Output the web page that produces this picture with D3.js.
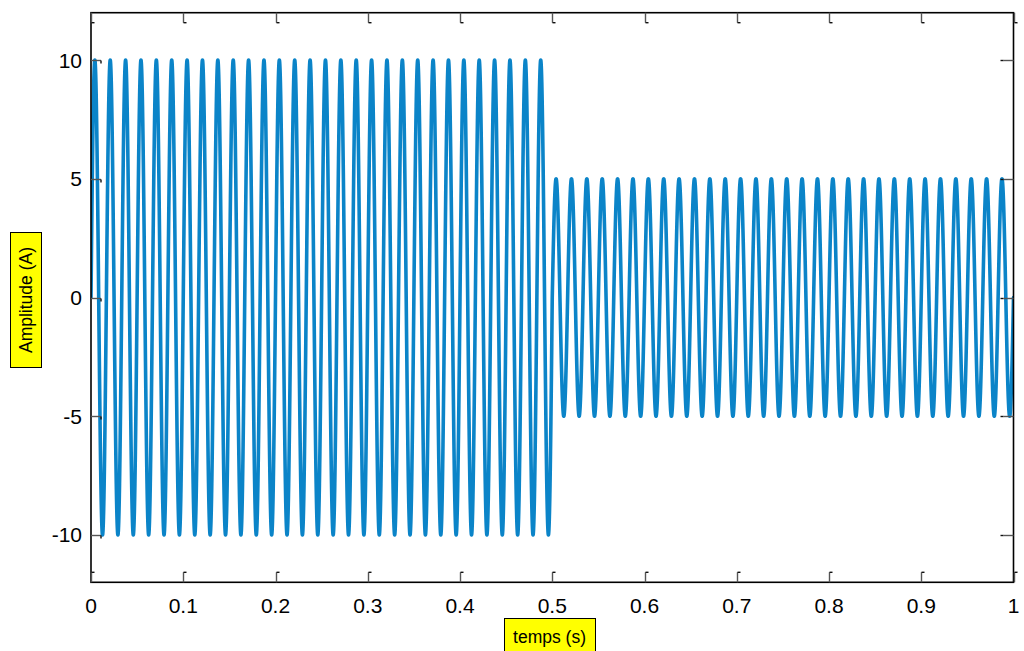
<!DOCTYPE html>
<html>
<head>
<meta charset="utf-8">
<script src="https://cdn.jsdelivr.net/npm/d3@7"></script>
<style>
  html, body { margin: 0; padding: 0; background: #fff; }
  svg { display: block; }
  text { font-family: "Liberation Sans", Arial, sans-serif; fill: #000; }
</style>
</head>
<body>
<svg id="chart" width="1024" height="651"></svg>
<script>
// ---- data ----
const xTicks = [0, 0.1, 0.2, 0.3, 0.4, 0.5, 0.6, 0.7, 0.8, 0.9, 1];
const xTickLabels = ["0", "0.1", "0.2", "0.3", "0.4", "0.5", "0.6", "0.7", "0.8", "0.9", "1"];
const yTicks = [-10, -5, 0, 5, 10];
const yTickLabels = ["-10", "-5", "0", "5", "10"];
const xDomain = [0, 1];
const yDomain = [-12, 12];
const frequencyHz = 60;          // 30 cycles per 0.5 s, read from the peak spacing
const cycleAmplitude = [         // peak amplitude of each of the 60 cycles (A)
  10, 10, 10, 10, 10, 10, 10, 10, 10, 10,
  10, 10, 10, 10, 10, 10, 10, 10, 10, 10,
  10, 10, 10, 10, 10, 10, 10, 10, 10, 10,
  5, 5, 5, 5, 5, 5, 5, 5, 5, 5,
  5, 5, 5, 5, 5, 5, 5, 5, 5, 5,
  5, 5, 5, 5, 5, 5, 5, 5, 5, 5
];
const samplesPerCycle = 160;
const xLabel = "temps (s)";
const yLabel = "Amplitude (A)";

// ---- build the sampled current from the cycles ----
const series = [];
cycleAmplitude.forEach((amp, k) => {
  const t0 = k / frequencyHz;
  for (let i = (k === 0 ? 0 : 1); i <= samplesPerCycle; i++) {
    const ph = i / samplesPerCycle;
    series.push({ t: t0 + ph / frequencyHz, v: amp * Math.sin(2 * Math.PI * ph) });
  }
});

// ---- layout ----
const svg = d3.select("#chart");
const L = 91, R = 1013.5, T = 12.7, B = 582.3;
const x = d3.scaleLinear().domain(xDomain).range([L, R]);
const y = d3.scaleLinear().domain(yDomain).range([B, T]);

const clipId = "plotclip";
svg.append("defs").append("clipPath").attr("id", clipId)
  .append("rect").attr("x", L).attr("y", T).attr("width", R - L).attr("height", B - T);

// signal
svg.append("path")
  .datum(series)
  .attr("clip-path", `url(#${clipId})`)
  .attr("fill", "none")
  .attr("stroke", "#0b84c8")
  .attr("stroke-width", 3.6)
  .attr("stroke-linejoin", "round")
  .attr("stroke-linecap", "round")
  .attr("d", d3.line().x(d => x(d.t)).y(d => y(d.v)));

// box
svg.append("rect")
  .attr("x", L).attr("y", T).attr("width", R - L).attr("height", B - T)
  .attr("fill", "none").attr("stroke", "#000").attr("stroke-width", 1.6);

// ticks (inward, with the small end nubs of the original)
const tickG = svg.append("g").attr("stroke-width", 1.4).attr("fill", "none");
const tl = 10, nub = 3;
xTicks.forEach(v => {
  const px = Math.round(x(v)) + 0.5;
  tickG.append("path").attr("stroke", "#555")
    .attr("d", `M${px},${B}V${B - tl}`);
  tickG.append("path").attr("stroke", "#111")
    .attr("d", `M${px},${B - tl}h${nub}`);
  tickG.append("path").attr("stroke", "#555")
    .attr("d", `M${px},${T}V${T + tl}`);
  tickG.append("path").attr("stroke", "#111")
    .attr("d", `M${px},${T + tl}h${nub}`);
});
yTicks.forEach(v => {
  const py = Math.round(y(v)) + 0.5;
  tickG.append("path").attr("stroke", "#555")
    .attr("d", `M${L},${py}H${L + tl}`);
  tickG.append("path").attr("stroke", "#111")
    .attr("d", `M${L + tl},${py}v${nub}`);
  tickG.append("path").attr("stroke", "#555")
    .attr("d", `M${R},${py}H${R - tl}`);
  tickG.append("path").attr("stroke", "#111")
    .attr("d", `M${R - tl},${py}h${-nub}`);
});

// tick labels
svg.append("g").selectAll("text").data(xTicks).join("text")
  .attr("x", d => x(d)).attr("y", 613)
  .attr("text-anchor", "middle").attr("font-size", 21)
  .text((d, i) => xTickLabels[i]);
svg.append("g").selectAll("text").data(yTicks).join("text")
  .attr("x", 82).attr("y", d => y(d) + 7.5)
  .attr("text-anchor", "end").attr("font-size", 21)
  .text((d, i) => yTickLabels[i]);

// axis labels with yellow boxes
const xl = svg.append("g");
xl.append("rect").attr("x", 504.5).attr("y", 618.5).attr("width", 91).attr("height", 40)
  .attr("fill", "#ffff00").attr("stroke", "#000").attr("stroke-width", 1);
xl.append("text").attr("x", 549.5).attr("y", 643).attr("text-anchor", "middle")
  .attr("font-size", 17.5).text(xLabel);

const yl = svg.append("g");
yl.append("rect").attr("x", 10.5).attr("y", 232.5).attr("width", 31).attr("height", 135)
  .attr("fill", "#ffff00").attr("stroke", "#000").attr("stroke-width", 1);
yl.append("text").attr("transform", "translate(32,300) rotate(-90)")
  .attr("text-anchor", "middle").attr("font-size", 17.5).text(yLabel);
</script>
</body>
</html>
